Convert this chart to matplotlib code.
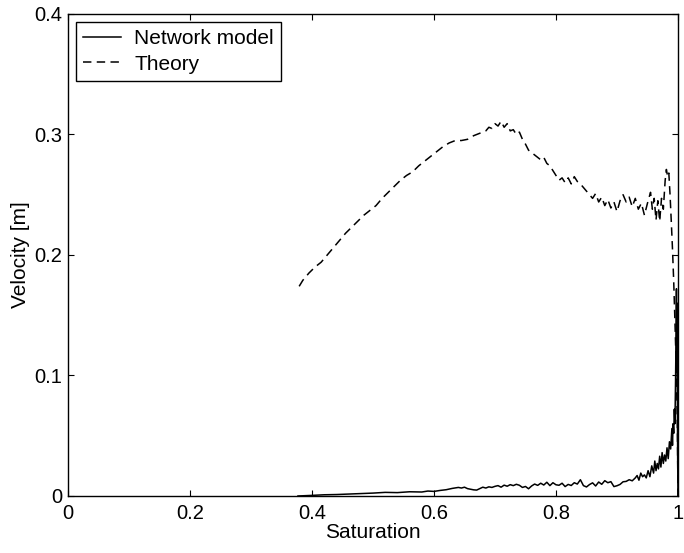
import matplotlib
matplotlib.use("Agg")
import matplotlib.pyplot as plt

plt.rcParams['font.family'] = ['Liberation Sans', 'DejaVu Sans']

# network simulation: velocity vs saturation
sat_net = [0.377, 0.40, 0.42, 0.44, 0.46, 0.48, 0.50, 0.52, 0.54, 0.56,
           0.58, 0.59, 0.60, 0.61, 0.62, 0.63, 0.64, 0.645, 0.65, 0.655,
           0.66, 0.665, 0.67, 0.675, 0.68, 0.685, 0.69, 0.695, 0.70, 0.705,
           0.71, 0.715, 0.72, 0.725, 0.73, 0.735, 0.74, 0.745, 0.75, 0.755,
           0.76, 0.765, 0.77, 0.775, 0.78, 0.785, 0.79, 0.795, 0.80, 0.805,
           0.81, 0.815, 0.82, 0.825, 0.83, 0.835, 0.84, 0.845, 0.85, 0.855,
           0.86, 0.865, 0.87, 0.875, 0.88, 0.885, 0.89, 0.895, 0.90, 0.905,
           0.91, 0.915, 0.92, 0.925, 0.93, 0.933, 0.936, 0.939, 0.942, 0.945,
           0.948, 0.951, 0.954, 0.957, 0.960, 0.962, 0.964, 0.966, 0.968, 0.970,
           0.972, 0.974, 0.976, 0.978, 0.980, 0.982, 0.984, 0.986, 0.988, 0.990,
           0.991, 0.992, 0.993, 0.994, 0.995, 0.996, 0.997, 0.9975, 0.998, 0.9985,
           0.999, 0.9995, 1.0]
vel_net = [0.0000, 0.0005, 0.0010, 0.0012, 0.0016, 0.0020, 0.0024, 0.0030, 0.0028, 0.0035,
           0.0033, 0.0041, 0.0038, 0.0046, 0.0052, 0.0063, 0.0071, 0.0066, 0.0073, 0.0061,
           0.0056, 0.0051, 0.0049, 0.0061, 0.0073, 0.0066, 0.0076, 0.0071, 0.0080, 0.0086,
           0.0073, 0.0090, 0.0081, 0.0094, 0.0086, 0.0097, 0.0089, 0.0071, 0.0079, 0.0060,
           0.0083, 0.0099, 0.0088, 0.0106, 0.0091, 0.0114, 0.0086, 0.0110, 0.0093, 0.0089,
           0.0106, 0.0078, 0.0096, 0.0087, 0.0110, 0.0099, 0.0135, 0.0086, 0.0075, 0.0095,
           0.0109, 0.0083, 0.0116, 0.0097, 0.0127, 0.0110, 0.0119, 0.0078, 0.0085, 0.0096,
           0.0118, 0.0121, 0.0135, 0.0126, 0.0150, 0.0170, 0.0131, 0.0190, 0.0160, 0.0175,
           0.0150, 0.0210, 0.0160, 0.0250, 0.0190, 0.0290, 0.0210, 0.0270, 0.0225, 0.0330,
           0.0240, 0.0360, 0.0270, 0.0340, 0.0290, 0.0400, 0.0310, 0.0450, 0.0390, 0.0560,
           0.0420, 0.0600, 0.0520, 0.0720, 0.0600, 0.0950, 0.1400, 0.1720, 0.1100, 0.1600,
           0.0800, 0.0300, 0.0000]

# analytical prediction
sat_th = [0.379, 0.385, 0.395, 0.405, 0.415, 0.425, 0.435, 0.445, 0.455, 0.465,
          0.475, 0.485, 0.495, 0.505, 0.515, 0.525, 0.535, 0.545, 0.555, 0.565,
          0.575, 0.585, 0.595, 0.605, 0.615, 0.625, 0.635, 0.645, 0.655, 0.665,
          0.675, 0.685, 0.690, 0.695, 0.700, 0.705, 0.710, 0.715, 0.720, 0.725,
          0.730, 0.735, 0.740, 0.745, 0.750, 0.755, 0.760, 0.765, 0.770, 0.775,
          0.780, 0.785, 0.790, 0.795, 0.800, 0.805, 0.810, 0.815, 0.820, 0.825,
          0.830, 0.835, 0.840, 0.845, 0.850, 0.855, 0.860, 0.865, 0.870, 0.875,
          0.880, 0.885, 0.890, 0.895, 0.900, 0.905, 0.910, 0.915, 0.920, 0.925,
          0.930, 0.935, 0.940, 0.945, 0.950, 0.955, 0.958, 0.961, 0.964, 0.967,
          0.970, 0.973, 0.976, 0.979, 0.981, 0.983, 0.985, 0.987, 0.989, 0.991,
          0.993, 0.995, 0.997, 0.999, 1.0]
vel_th = [0.174, 0.179, 0.185, 0.190, 0.194, 0.200, 0.206, 0.212, 0.218, 0.223,
          0.228, 0.233, 0.237, 0.241, 0.247, 0.252, 0.257, 0.262, 0.266, 0.269,
          0.274, 0.278, 0.282, 0.286, 0.290, 0.293, 0.295, 0.295, 0.296, 0.299,
          0.301, 0.303, 0.306, 0.305, 0.309, 0.307, 0.311, 0.306, 0.309, 0.303,
          0.304, 0.300, 0.302, 0.296, 0.292, 0.287, 0.285, 0.283, 0.281, 0.279,
          0.281, 0.276, 0.274, 0.270, 0.266, 0.262, 0.264, 0.260, 0.264, 0.259,
          0.265, 0.261, 0.259, 0.256, 0.253, 0.250, 0.247, 0.251, 0.244, 0.248,
          0.241, 0.246, 0.239, 0.244, 0.236, 0.245, 0.250, 0.244, 0.248, 0.240,
          0.247, 0.238, 0.243, 0.233, 0.243, 0.252, 0.238, 0.247, 0.229, 0.245,
          0.228, 0.247, 0.238, 0.262, 0.271, 0.265, 0.268, 0.250, 0.228, 0.205,
          0.178, 0.145, 0.110, 0.060, 0.000]

fig = plt.figure(figsize=(6.84, 5.53), dpi=100)
ax = fig.add_axes([0.0994, 0.1031, 0.8918, 0.8716])

ax.plot(sat_net, vel_net, color='black', lw=1.1, label='Network model')
ax.plot(sat_th, vel_th, color='black', lw=1.1, dashes=(5.5, 3.5), label='Theory')

ax.set_xlim(0, 1)
ax.set_ylim(0, 0.4)
ax.set_xticks([0, 0.2, 0.4, 0.6, 0.8, 1])
ax.set_xticklabels(['0', '0.2', '0.4', '0.6', '0.8', '1'])
ax.set_yticks([0, 0.1, 0.2, 0.3, 0.4])
ax.set_yticklabels(['0', '0.1', '0.2', '0.3', '0.4'])
ax.tick_params(direction='in', top=True, right=True, length=4.5, width=0.8,
               labelsize=14.5)
ax.tick_params(axis='x', pad=6)
ax.tick_params(axis='y', pad=4)
for s in ax.spines.values():
    s.set_linewidth(1.0)

ax.set_xlabel('Saturation', fontsize=15, labelpad=0)
ax.set_ylabel('Velocity [m]', fontsize=15, labelpad=3)

leg = ax.legend(loc='upper left', bbox_to_anchor=(0.013, 0.983), borderaxespad=0,
                fontsize=15, fancybox=False, edgecolor='black', framealpha=1,
                handlelength=1.8, handletextpad=0.65, borderpad=0.35,
                labelspacing=0.3)
leg.get_frame().set_linewidth(1.0)

fig.savefig('out.png', dpi=100)
